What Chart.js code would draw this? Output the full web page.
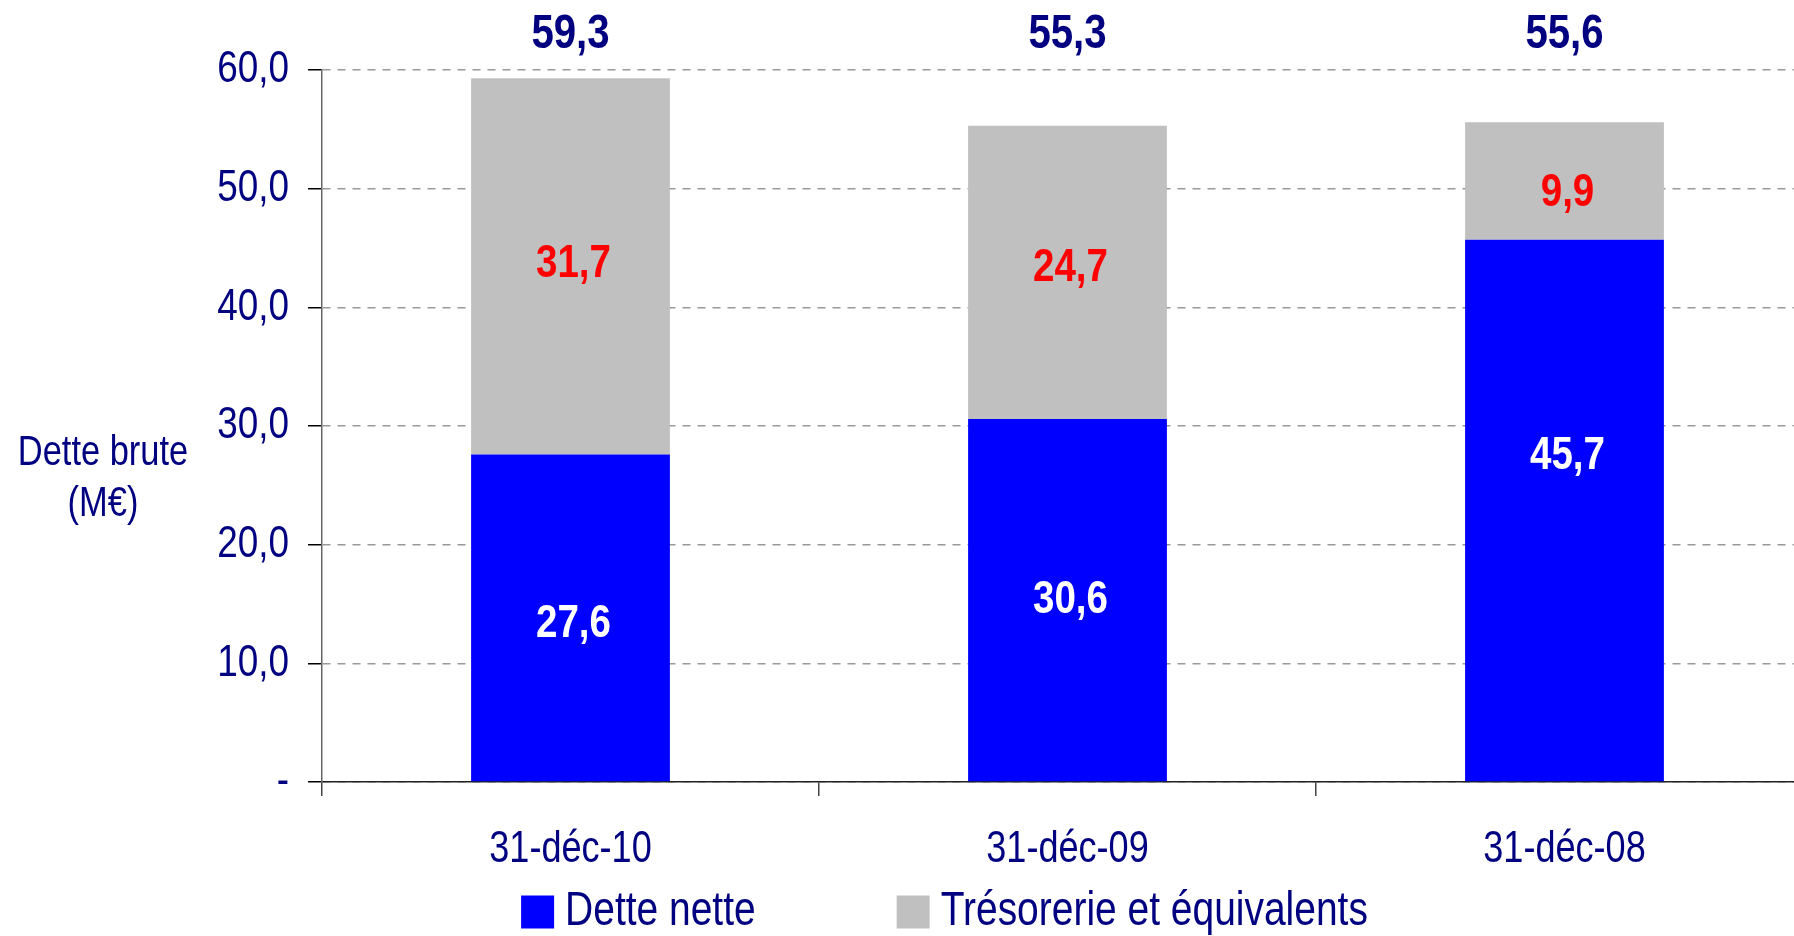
<!DOCTYPE html>
<html>
<head>
<meta charset="utf-8">
<script src="https://cdn.jsdelivr.net/npm/chart.js@4.4.1/dist/chart.umd.min.js"></script>
<style>
    html, body { margin: 0; padding: 0; background: #fff; overflow: hidden; }
    /* plot runs a little past the right edge of the picture, as in the original */
    #wrap { width: 1813px; height: 936px; position: relative; }
</style>
</head>
<body>
<div id="wrap"><canvas id="barChart"></canvas></div>
<script>
// Closing dates (x axis)
var categories = ['31-déc-10', '31-déc-09', '31-déc-08'];
// Stacked series, M€
var detteNette = [27.6, 30.6, 45.7];
var tresorerie = [31.7, 24.7, 9.9];
var seriesNames = ['Dette nette', 'Trésorerie et équivalents'];
// y axis
var yMin = 0;
var yMax = 60;
var yStep = 10;
var yTitle = ['Dette brute', '(M€)'];

var NAVY = '#000080';
var FONT = "'Liberation Sans', Arial, sans-serif";

// No narrow font is installed, so squeeze all canvas text horizontally
var NARROW = 0.82;
var rawFillText = CanvasRenderingContext2D.prototype.fillText;
CanvasRenderingContext2D.prototype.fillText = function(text, x, y, maxWidth) {
    var w = this.measureText(text).width * NARROW;
    if (maxWidth !== undefined) w = Math.min(w, maxWidth);
    return rawFillText.call(this, text, x, y, w);
};

// 59.3 -> "59,3"
function fmt(v) {
    return v.toFixed(1).replace('.', ',');
}

// Value labels, totals, flat y title and legend
var labelsPlugin = {
    id: 'labels',
    afterDatasetsDraw: function(chart) {
        var ctx = chart.ctx;
        var area = chart.chartArea;
        ctx.save();
        ctx.textAlign = 'center';
        ctx.textBaseline = 'middle';
        ctx.font = 'bold 47px ' + FONT;

        // values in the middle of each segment
        chart.data.datasets.forEach(function(ds, i) {
            var meta = chart.getDatasetMeta(i);
            meta.data.forEach(function(bar, j) {
                var p = bar.getProps(['x', 'y', 'base'], true);
                var shift = ds.labelShift ? ds.labelShift[j] : 0;
                ctx.fillStyle = ds.labelColor;
                ctx.fillText(fmt(ds.data[j]), p.x + 3, (p.y + p.base) / 2 + shift);
            });
        });

        // totals (dette brute) above the plot
        ctx.font = 'bold 49px ' + FONT;
        ctx.fillStyle = NAVY;
        chart.getDatasetMeta(0).data.forEach(function(bar, j) {
            ctx.fillText(fmt(detteNette[j] + tresorerie[j]), bar.x, area.top - 36);
        });
        ctx.restore();
    },
    afterDraw: function(chart) {
        var ctx = chart.ctx;
        var area = chart.chartArea;
        ctx.save();

        // y title, written flat left of the axis
        ctx.fillStyle = NAVY;
        ctx.textAlign = 'center';
        ctx.textBaseline = 'middle';
        ctx.font = '42px ' + FONT;
        var midY = (area.top + area.bottom) / 2;
        ctx.fillText(yTitle[0], 103, midY + 27);
        ctx.fillText(yTitle[1], 103, midY + 78);

        // legend under the x labels
        ctx.font = '47.5px ' + FONT;
        ctx.textAlign = 'left';
        var box = 33, gap = 11, itemGap = 141;
        var colors = chart.data.datasets.map(function(ds) { return ds.backgroundColor; });
        var widths = seriesNames.map(function(t) { return ctx.measureText(t).width * NARROW; });
        var total = box + gap + widths[0] + itemGap + box + gap + widths[1];
        var x = chart.width / 2 + 38 - total / 2;
        var y = chart.height - 24;
        seriesNames.forEach(function(name, i) {
            ctx.fillStyle = colors[i];
            ctx.fillRect(x, y - box / 2, box, box);
            ctx.fillStyle = NAVY;
            ctx.fillText(name, x + box + gap, y);
            x += box + gap + widths[i] + itemGap;
        });
        ctx.restore();
    }
};

function generateBarChart() {
    var ctx = document.getElementById('barChart').getContext('2d');

    new Chart(ctx, {
        type: 'bar',
        data: {
            labels: categories,
            datasets: [{
                label: seriesNames[0],
                data: detteNette,
                backgroundColor: '#0000FF',
                labelColor: '#FFFFFF',
                labelShift: [6, 0, -54]
            }, {
                label: seriesNames[1],
                data: tresorerie,
                backgroundColor: '#C0C0C0',
                labelColor: '#FF0000',
                labelShift: [-2, -4, 12]
            }]
        },
        options: {
            responsive: true,
            maintainAspectRatio: false,
            animation: false,
            categoryPercentage: 1,
            barPercentage: 0.4,
            layout: {
                padding: { top: 70, left: 0, right: 0, bottom: 0 }
            },
            scales: {
                x: {
                    stacked: true,
                    offset: true,
                    grid: {
                        offset: true,
                        drawOnChartArea: false,
                        tickLength: 14,
                        tickColor: '#444',
                        lineWidth: 1.5
                    },
                    border: { color: '#222', width: 1.5 },
                    ticks: {
                        color: NAVY,
                        padding: 27,
                        font: { family: FONT, size: 44 }
                    },
                    afterFit: function(scale) { scale.height = 154; }
                },
                y: {
                    stacked: true,
                    min: yMin,
                    max: yMax,
                    grid: {
                        color: '#9a9a9a',
                        lineWidth: 1.5,
                        tickLength: 14,
                        tickColor: '#000',
                        tickBorderDash: []
                    },
                    border: { color: '#666', width: 1.5, dash: [8, 7] },
                    ticks: {
                        stepSize: yStep,
                        color: NAVY,
                        padding: 19,
                        font: { family: FONT, size: 45 },
                        callback: function(v) { return v === 0 ? '-' : fmt(v); }
                    },
                    afterFit: function(scale) { scale.width = 322; }
                }
            },
            plugins: {
                legend: { display: false },
                tooltip: { enabled: false }
            }
        },
        plugins: [labelsPlugin]
    });
}

generateBarChart();
</script>
</body>
</html>
